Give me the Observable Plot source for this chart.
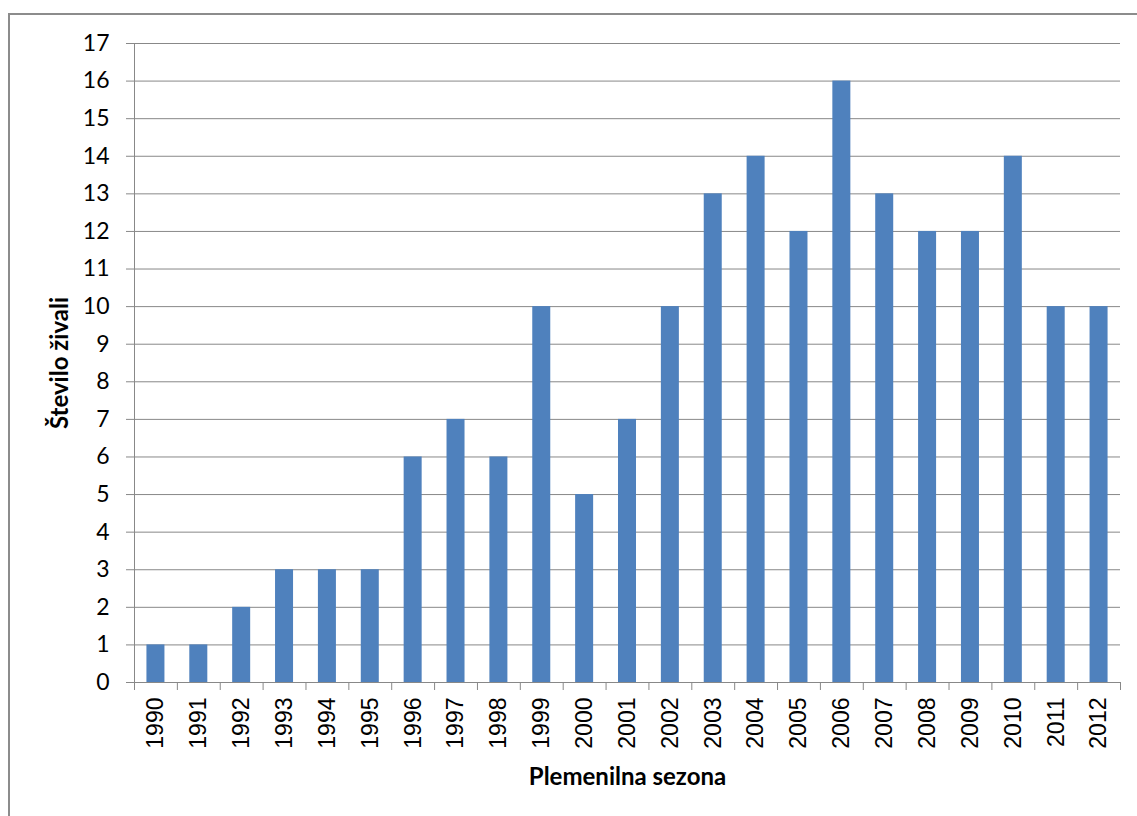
<!DOCTYPE html>
<html>
<head>
<meta charset="utf-8">
<script src="https://cdn.jsdelivr.net/npm/d3@7"></script>
<script src="https://cdn.jsdelivr.net/npm/@observablehq/plot@0.6"></script>
<style>
  html, body { margin: 0; padding: 0; background: #fff; overflow: hidden; }
  #wrap { position: relative; width: 1137px; height: 816px; }
  #border { position: absolute; left: 8px; top: 13px; width: 1200px; height: 900px; border: 2px solid #8c8c8c; box-sizing: border-box; }
  #chart { position: absolute; left: 0; top: 0; }
</style>
</head>
<body>
<div id="wrap"><div id="border"></div><div id="chart"></div></div>
<script>
const years = ["1990","1991","1992","1993","1994","1995","1996","1997","1998","1999","2000","2001","2002","2003","2004","2005","2006","2007","2008","2009","2010","2011","2012"];
const counts = [1,1,2,3,3,3,6,7,6,10,5,7,10,13,14,12,16,13,12,12,14,10,10];
const yTicks = d3.range(0, 18);
const yTitle = "Število živali";
const xTitle = "Plemenilna sezona";

const data = years.map((y, i) => ({year: y, count: counts[i]}));

const W = 1137, H = 816, ML = 134, MR = 17, MT = 43, MB = 134;
const step = (W - ML - MR) / years.length;

const chart = Plot.plot({
  width: W, height: H,
  marginLeft: ML, marginRight: MR, marginTop: MT, marginBottom: MB,
  style: {background: "transparent", overflow: "visible"},
  x: {domain: years, paddingInner: 0.58, paddingOuter: 0.29, align: 0.5, round: false},
  y: {domain: [0, 17], ticks: yTicks},
  marks: [
    Plot.ruleY(yTicks, {stroke: "#888", strokeWidth: 1}),
    Plot.frame({anchor: "left", stroke: "#888"}),
    Plot.axisY({ticks: yTicks, tickSize: 8, tickPadding: 17, stroke: "#888", fontSize: 23, fontFamily: "Lato", fill: "#000", label: null}),
    Plot.barY(data, {x: "year", y: "count", fill: "#4F81BD"}),
    // category boundary ticks
    Plot.axisX({ticks: years, tickSize: 8, dx: -step / 2, text: null, stroke: "#888", label: null}),
    Plot.axisX({ticks: [years[years.length - 1]], tickSize: 8, dx: step / 2, text: null, stroke: "#888", label: null}),
    Plot.axisX({ticks: years, tickSize: 0, tickPadding: 15, tickRotate: -90, fontSize: 23, fontFamily: "Liberation Sans", fill: "#000", label: null}),
    Plot.text([yTitle], {frameAnchor: "left", dx: -74, rotate: -90, textAnchor: "middle", lineAnchor: "middle", fontWeight: "bold", fontSize: 24, fontFamily: "Lato", fill: "#000"}),
    Plot.text([xTitle], {frameAnchor: "bottom", dy: 95, textAnchor: "middle", lineAnchor: "middle", fontWeight: "bold", fontSize: 24, fontFamily: "Lato", fill: "#000"})
  ]
});
document.getElementById("chart").appendChild(chart);
</script>
</body>
</html>
